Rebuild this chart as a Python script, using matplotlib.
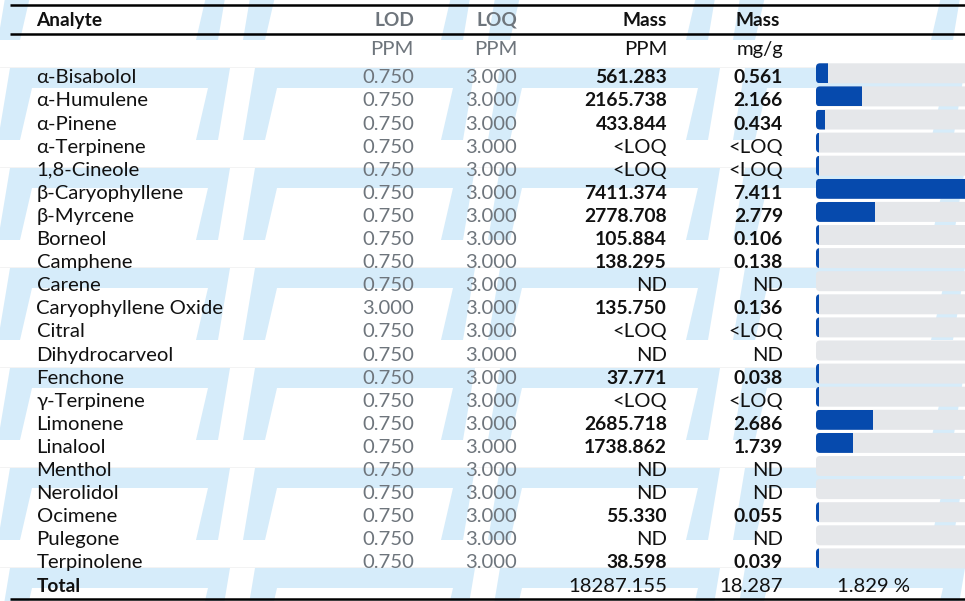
import matplotlib
matplotlib.use("Agg")
import matplotlib.pyplot as plt
from matplotlib.patches import Polygon, FancyBboxPatch

plt.rcParams['font.family'] = ['Lato', 'DejaVu Sans']

analytes = ["α-Bisabolol", "α-Humulene", "α-Pinene", "α-Terpinene", "1,8-Cineole",
            "β-Caryophyllene", "β-Myrcene", "Borneol", "Camphene", "Carene",
            "Caryophyllene Oxide", "Citral", "Dihydrocarveol", "Fenchone", "γ-Terpinene",
            "Limonene", "Linalool", "Menthol", "Nerolidol", "Ocimene", "Pulegone",
            "Terpinolene"]
lod = [0.750, 0.750, 0.750, 0.750, 0.750, 0.750, 0.750, 0.750, 0.750, 0.750,
       3.000, 0.750, 0.750, 0.750, 0.750, 0.750, 0.750, 0.750, 0.750, 0.750,
       0.750, 0.750]
loq = [3.000] * 22
mass_ppm = [561.283, 2165.738, 433.844, "<LOQ", "<LOQ", 7411.374, 2778.708, 105.884,
            138.295, "ND", 135.750, "<LOQ", "ND", 37.771, "<LOQ", 2685.718, 1738.862,
            "ND", "ND", 55.330, "ND", 38.598]
mass_mgg = [0.561, 2.166, 0.434, "<LOQ", "<LOQ", 7.411, 2.779, 0.106, 0.138, "ND",
            0.136, "<LOQ", "ND", 0.038, "<LOQ", 2.686, 1.739, "ND", "ND", 0.055, "ND",
            0.039]
total_ppm = 18287.155
total_mgg = 18.287
total_pct = 1.829

W, H = 965, 601
fig = plt.figure(figsize=(W / 100, H / 100), dpi=100)
ax = fig.add_axes([0, 0, 1, 1])
ax.set_xlim(0, W)
ax.set_ylim(H, 0)
ax.axis('off')

# watermark tiles
wm = '#d6ecfa'
shape = [(0, 0), (220, 0), (208, 72), (186, 72), (198, 20), (22, 20), (10, 72), (-12, 72)]
for m in range(8):
    y0 = -32 + 100 * m
    ax.plot([0, W], [y0 - 1, y0 - 1], color='#f1f1f1', lw=0.6, zorder=0)
    for k in range(-1, 5):
        x0 = 10 + 245 * k
        ax.add_patch(Polygon([(x0 + a, y0 + b) for a, b in shape], closed=True,
                             fc=wm, ec='none', zorder=0))

black = '#111111'
gray = '#6e757c'
fs = 14.6
bfs = 13.9
hfs = 13.8
x_name, x_lod, x_loq, x_ppm, x_mgg = 36.5, 414, 517, 667, 783
base0, step = 83.3, 23.1

# rules
for y in (5, 33.5, 598.5):
    ax.plot([10, W], [y, y], color='black', lw=1.8, solid_capstyle='butt', zorder=3)

# header
ax.text(x_name, 26, "Analyte", fontsize=hfs, fontweight='bold', color=black, va='baseline')
ax.text(x_lod, 26, "LOD", fontsize=hfs, fontweight='bold', color=gray, ha='right', va='baseline')
ax.text(x_loq, 26, "LOQ", fontsize=hfs, fontweight='bold', color=gray, ha='right', va='baseline')
ax.text(x_ppm, 26, "Mass", fontsize=hfs, fontweight='bold', color=black, ha='right', va='baseline')
ax.text(x_mgg - 3, 26, "Mass", fontsize=hfs, fontweight='bold', color=black, ha='right', va='baseline')
ax.text(x_lod, 55, "PPM", fontsize=fs, color=gray, ha='right', va='baseline')
ax.text(x_loq, 55, "PPM", fontsize=fs, color=gray, ha='right', va='baseline')
ax.text(x_ppm, 55, "PPM", fontsize=fs, color=black, ha='right', va='baseline')
ax.text(x_mgg, 55, "mg/g", fontsize=fs, color=black, ha='right', va='baseline')

# bars
bar_left, px_per_unit, min_px = 816, 21.2, 3.3
for i in range(len(analytes)):
    yb = base0 + i * step
    bg = FancyBboxPatch((bar_left, yb - 20), 300, 20,
                        boxstyle="round,pad=0,rounding_size=4",
                        fc='#e5e7ea', ec='none', zorder=1)
    ax.add_patch(bg)
    v = mass_mgg[i]
    if v == "ND":
        continue
    w = min_px if v == "<LOQ" else max(v * px_per_unit, min_px)
    bars = ax.barh([yb - 10], [w], left=bar_left, height=20, color='#064aad', zorder=2)
    for b in bars:
        b.set_clip_path(bg)

# rows
for i, name in enumerate(analytes):
    yb = base0 + i * step
    ax.text(x_name, yb, name, fontsize=fs, color=black, va='baseline')
    ax.text(x_lod, yb, f"{lod[i]:.3f}", fontsize=fs, color=gray, ha='right', va='baseline')
    ax.text(x_loq, yb, f"{loq[i]:.3f}", fontsize=fs, color=gray, ha='right', va='baseline')
    for val, x in ((mass_ppm[i], x_ppm), (mass_mgg[i], x_mgg)):
        if isinstance(val, str):
            ax.text(x, yb, val, fontsize=fs, color=black, ha='right', va='baseline')
        else:
            ax.text(x, yb, f"{val:.3f}", fontsize=bfs, fontweight='bold', color=black,
                    ha='right', va='baseline')

yt = base0 + len(analytes) * step
ax.text(x_name, yt, "Total", fontsize=hfs, fontweight='bold', color=black, va='baseline')
ax.text(x_ppm, yt, f"{total_ppm:.3f}", fontsize=fs, color=black, ha='right', va='baseline')
ax.text(x_mgg, yt, f"{total_mgg:.3f}", fontsize=fs, color=black, ha='right', va='baseline')
ax.text(837, yt, f"{total_pct:.3f} %", fontsize=fs, color=black, va='baseline')

fig.savefig("out.png", dpi=100)
